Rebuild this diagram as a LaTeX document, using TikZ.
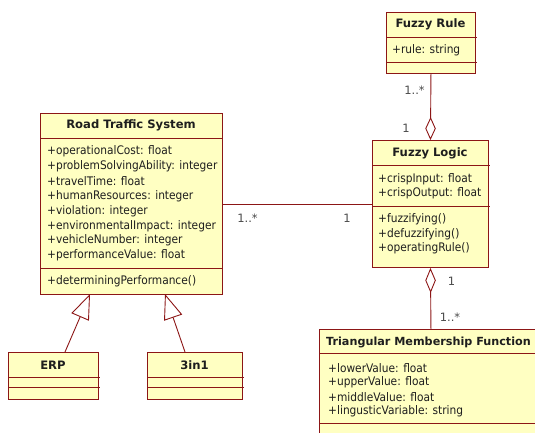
\documentclass[tikz,border=0pt]{standalone}
\usepackage{fontspec}
\setmainfont{DejaVu Sans Condensed}
\newfontfamily\widefont{DejaVu Sans}
\usetikzlibrary{arrows.meta}
\definecolor{umlfill}{RGB}{255,255,194}
\definecolor{umlline}{RGB}{140,22,22}
\definecolor{umltext}{RGB}{30,30,30}
\begin{document}
\begin{tikzpicture}[x=1pt,y=-1pt,
  classbox/.style={draw=umlline, fill=umlfill, line width=0.9pt, inner sep=0pt, anchor=north west},
  sepline/.style={draw=umlline, line width=0.9pt},
  conn/.style={draw=umlline, line width=0.9pt},
  attr/.style={anchor=west, inner sep=0pt, text=umltext, font=\fontsize{11.8}{13}\selectfont},
  ctitle/.style={anchor=center, inner sep=0pt, text=umltext, font=\widefont\fontsize{11.6}{13}\selectfont\bfseries},
  mult/.style={anchor=center, inner sep=0pt, text=umltext!80, font=\widefont\fontsize{11.5}{13}\selectfont}
]
\useasboundingbox (0,0) rectangle (535,432);

% Road Traffic System
\node[classbox, minimum width=182pt, minimum height=181pt] (rts) at (40,113) {};
\draw[sepline] (40,138) -- (222,138);
\draw[sepline] (40,268) -- (222,268);
\node[ctitle] (rtsT) at (131,125.7) {Road Traffic System};
\node[attr] (rtsA1) at (47,151.7) {+operationalCost: float};
\node[attr] (rtsA2) at (47,166.5) {+problemSolvingAbility: integer};
\node[attr] (rtsA3) at (47,181.2) {+travelTime: float};
\node[attr] (rtsA4) at (47,196.6) {+humanResources: integer};
\node[attr] (rtsA5) at (47,211.2) {+violation: integer};
\node[attr] (rtsA6) at (47,226) {+environmentalImpact: integer};
\node[attr] (rtsA7) at (47,240.7) {+vehicleNumber: integer};
\node[attr] (rtsA8) at (47,255.6) {+performanceValue: float};
\node[attr] (rtsM1) at (47,281.7) {+determiningPerformance()};

% Fuzzy Rule
\node[classbox, minimum width=89pt, minimum height=61pt] (fr) at (386,12) {};
\draw[sepline] (386,37) -- (476.5,37);
\draw[sepline] (386,62) -- (476.5,62);
\node[ctitle] (frT) at (430.5,24.7) {Fuzzy Rule};
\node[attr] (frA1) at (392,50.5) {+rule: string};

% Fuzzy Logic
\node[classbox, minimum width=116pt, minimum height=127pt] (fl) at (372,140) {};
\draw[sepline] (372,165) -- (489.5,165);
\draw[sepline] (372,206) -- (489.5,206);
\node[ctitle] (flT) at (430,153.7) {Fuzzy Logic};
\node[attr] (flA1) at (378,179) {+crispInput: float};
\node[attr] (flA2) at (378,193.5) {+crispOutput: float};
\node[attr] (flM1) at (378,219) {+fuzzifying()};
\node[attr] (flM2) at (378,234) {+defuzzifying()};
\node[attr] (flM3) at (378,248.3) {+operatingRule()};

% Triangular Membership Function
\node[classbox, minimum width=223pt, minimum height=120pt] (tmf) at (319,329) {};
\draw[sepline] (319,353) -- (542,353);
\draw[sepline] (319,423) -- (542,423);
\node[ctitle, anchor=west, font=\widefont\fontsize{11.2}{13}\selectfont\bfseries] (tmfT) at (326,342.7) {Triangular Membership Function};
\node[attr] (tmfA1) at (328,367.7) {+lowerValue: float};
\node[attr] (tmfA2) at (328,382) {+upperValue: float};
\node[attr] (tmfA3) at (328,397.5) {+middleValue: float};
\node[attr] (tmfA4) at (328,411) {+lingusticVariable: string};

% ERP
\node[classbox, minimum width=90pt, minimum height=47pt] (erp) at (8,352) {};
\draw[sepline] (8,377) -- (100,377);
\draw[sepline] (8,387) -- (100,387);
\node[ctitle] (erpT) at (53,365) {ERP};

% 3in1
\node[classbox, minimum width=95pt, minimum height=47pt] (tin) at (147,352) {};
\draw[sepline] (147,377) -- (244,377);
\draw[sepline] (147,387) -- (244,387);
\node[ctitle] (tinT) at (194.5,365) {3in1};

% connectors
\draw[conn] (rts.east) -- (fl.west);
\node[mult] (m1) at (247.5,218) {1..*};
\node[mult] (m2) at (347,218) {1};

\draw[conn, -{Diamond[open, fill=white, length=23pt, width=10.5pt]}] (fr.south) -- (fl.north);
\node[mult] (m3) at (414.5,90) {1..*};
\node[mult] (m4) at (406,128) {1};

\draw[conn, {Diamond[open, fill=white, length=25pt, width=10.5pt]}-] (fl.south) -- (tmf.north);
\node[mult] (m5) at (451.5,281) {1};
\node[mult] (m6) at (450,317) {1..*};

\coordinate (g1s) at (65,352);
\coordinate (g1e) at (90,294);
\coordinate (g2s) at (185,352);
\coordinate (g2e) at (165,294);
\draw[conn, -{Triangle[open, fill=white, length=25pt, width=19pt]}] (g1s) -- (g1e);
\draw[conn, -{Triangle[open, fill=white, length=25pt, width=19pt]}] (g2s) -- (g2e);
\end{tikzpicture}
\end{document}
